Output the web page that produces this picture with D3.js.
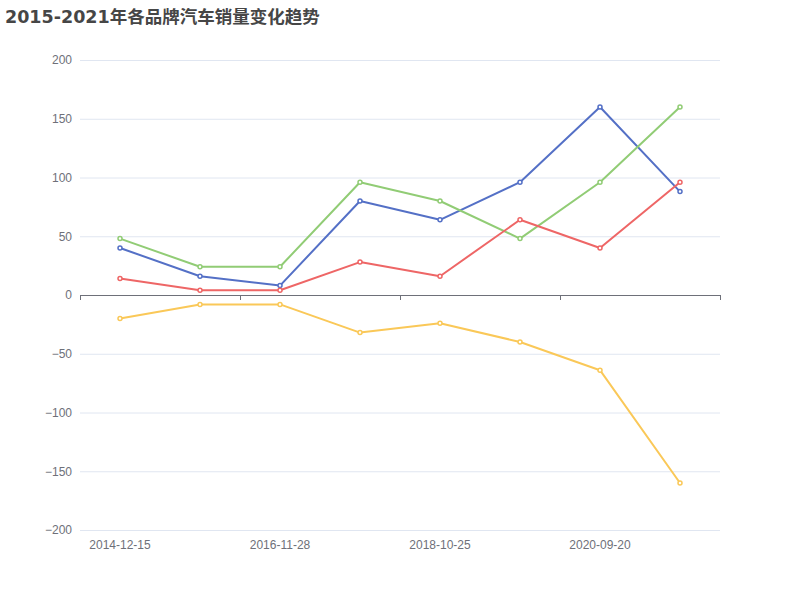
<!DOCTYPE html>
<html>
<head>
<meta charset="utf-8">
<script src="https://cdn.jsdelivr.net/npm/d3@7"></script>
<style>
  body { margin: 0; background: #fff; }
  svg { display: block; }
</style>
</head>
<body>
<svg id="chart" width="800" height="600"></svg>
<script>
// categories (only every other one gets a label on the axis)
const dates = ["2014-12-15", "2015-12-07", "2016-11-28", "2017-11-10",
               "2018-10-25", "2019-10-08", "2020-09-20", "2021-09-05"];

const blueValues = [40, 16, 8, 80, 64, 96, 160, 88];
const greenValues = [48, 24, 24, 96, 80, 48, 96, 160];
const redValues = [14, 4, 4, 28, 16, 64, 40, 96];
const yellowValues = [-20, -8, -8, -32, -24, -40, -64, -160];

const yTicks = [-200, -150, -100, -50, 0, 50, 100, 150, 200];

const series = [
    {values: blueValues, color: "#5470c6"},
    {values: greenValues, color: "#91cc75"},
    {values: yellowValues, color: "#fac858"},
    {values: redValues, color: "#ee6666"}
];

const width = 800, height = 600;
const margin = {top: 60, right: 80, bottom: 70, left: 80};

const svg = d3.select("#chart");

svg.append("text")
    .attr("x", 5)
    .attr("y", 23)
    .attr("font-family", "'DejaVu Sans', 'Noto Sans CJK SC', sans-serif")
    .attr("font-size", 17.5)
    .attr("font-weight", "bold")
    .attr("fill", "#464646")
    .text("2015-2021年各品牌汽车销量变化趋势");

const x = d3.scaleBand()
    .domain(dates)
    .range([margin.left, width - margin.right]);

const y = d3.scaleLinear()
    .domain([-200, 200])
    .range([height - margin.bottom, margin.top]);

const font = "'Liberation Sans', Arial, sans-serif";

// horizontal grid + y labels
const yAxis = g => g
    .attr("transform", `translate(${margin.left},0)`)
    .call(d3.axisLeft(y).tickValues(yTicks).tickSize(0).tickPadding(8))
    .call(g => g.select(".domain").remove())
    .call(g => g.selectAll(".tick text")
        .attr("fill", "#6e7079")
        .attr("font-size", 12)
        .attr("font-family", font))
    .call(g => g.selectAll(".tick")
        .filter(d => d !== 0)
        .append("line")
        .attr("x2", width - margin.left - margin.right)
        .attr("stroke", "#e0e6f1"));

svg.append("g").call(yAxis);

// axis line at zero with a tick every two categories
const zeroY = y(0);
const tickXs = dates.filter((d, i) => i % 2 === 0).map(d => x(d)).concat([x.range()[1]]);

const xAxisLine = svg.append("g").attr("stroke", "#6e7079");
xAxisLine.append("line")
    .attr("x1", margin.left)
    .attr("x2", width - margin.right)
    .attr("y1", zeroY + 0.5)
    .attr("y2", zeroY + 0.5);
xAxisLine.selectAll(".tk")
    .data(tickXs)
    .join("line")
    .attr("class", "tk")
    .attr("x1", d => Math.round(d) + 0.5)
    .attr("x2", d => Math.round(d) + 0.5)
    .attr("y1", zeroY)
    .attr("y2", zeroY + 5);

// category labels along the bottom
svg.append("g")
    .selectAll("text")
    .data(dates.filter((d, i) => i % 2 === 0))
    .join("text")
    .attr("x", d => x(d) + x.bandwidth() / 2)
    .attr("y", height - margin.bottom + 19)
    .attr("text-anchor", "middle")
    .attr("font-size", 12)
    .attr("font-family", font)
    .attr("fill", "#6e7079")
    .text(d => d);

const line = d3.line()
    .x((d, i) => x(dates[i]) + x.bandwidth() / 2)
    .y(d => y(d));

series.forEach(s => {
    const g = svg.append("g");
    g.append("path")
        .datum(s.values)
        .attr("fill", "none")
        .attr("stroke", s.color)
        .attr("stroke-width", 2)
        .attr("stroke-linejoin", "bevel")
        .attr("d", line);
    g.selectAll("circle")
        .data(s.values)
        .join("circle")
        .attr("cx", (d, i) => x(dates[i]) + x.bandwidth() / 2)
        .attr("cy", d => y(d))
        .attr("r", 2)
        .attr("fill", "#fff")
        .attr("stroke", s.color)
        .attr("stroke-width", 1.5);
});
</script>
</body>
</html>
